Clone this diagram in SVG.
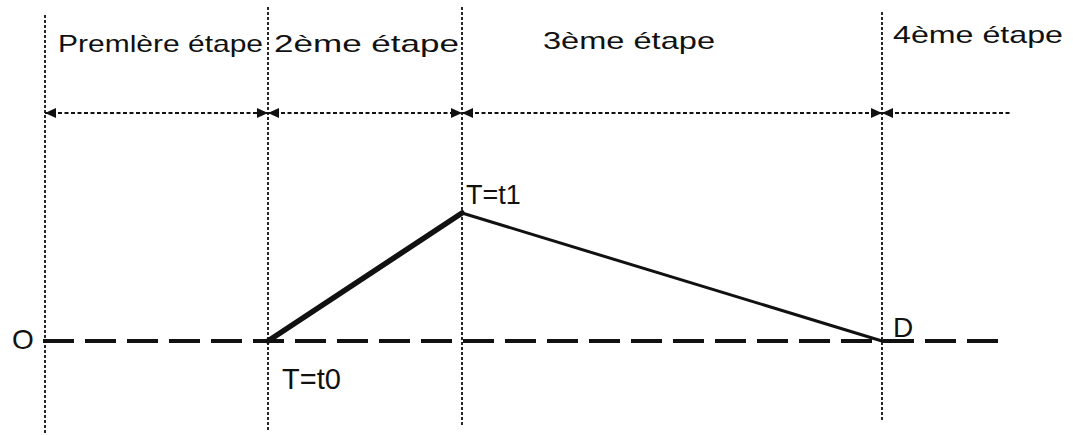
<svg xmlns="http://www.w3.org/2000/svg" width="1073" height="435" viewBox="0 0 1073 435">
<style>
.lbl{font-family:"Liberation Sans",Arial,sans-serif;fill:#111;}
.hd{font-size:24px;}
.vline{stroke:#111;stroke-width:1.8;stroke-dasharray:3 2;fill:none;}
.span{stroke:#111;stroke-width:2;stroke-dasharray:4 2.5;fill:none;}
.axis{stroke:#111;stroke-width:4;stroke-dasharray:31 11;fill:none;}
</style>
<defs>
<marker id="ah" viewBox="0 0 11 10" refX="11" refY="5" markerWidth="11" markerHeight="10" markerUnits="userSpaceOnUse" orient="auto-start-reverse">
<path d="M0,0 L11,5 L0,10 z" fill="#111"/>
</marker>
</defs>
<rect width="1073" height="435" fill="#fff"/>
<g id="grid">
<line class="vline" x1="45" y1="15" x2="45" y2="435" stroke-width="2.2"/>
<line class="vline" x1="268" y1="7" x2="268" y2="430"/>
<line class="vline" x1="462" y1="7" x2="462" y2="427"/>
<line class="vline" x1="882" y1="12" x2="882" y2="420"/>
</g>
<g id="stage1"><text class="lbl hd" x="58" y="52" textLength="205" lengthAdjust="spacingAndGlyphs">Premlère étape</text></g>
<g id="stage2"><text class="lbl hd" x="274" y="52" textLength="185" lengthAdjust="spacingAndGlyphs">2ème étape</text></g>
<g id="stage3"><text class="lbl hd" x="543" y="49" textLength="172" lengthAdjust="spacingAndGlyphs">3ème étape</text></g>
<g id="stage4"><text class="lbl hd" x="893" y="43" textLength="170" lengthAdjust="spacingAndGlyphs">4ème étape</text></g>
<g id="connectors">
<line class="span" x1="45" y1="113" x2="268" y2="113" marker-start="url(#ah)" marker-end="url(#ah)"/>
<line class="span" x1="268" y1="113" x2="462" y2="113" marker-start="url(#ah)" marker-end="url(#ah)"/>
<line class="span" x1="462" y1="113" x2="882" y2="113" marker-start="url(#ah)" marker-end="url(#ah)"/>
<line class="span" x1="882" y1="113" x2="1012" y2="113" marker-start="url(#ah)"/>
<line class="axis" x1="43" y1="341" x2="1005" y2="341"/>
<line x1="268" y1="341" x2="462" y2="213" stroke="#111" stroke-width="5.5" stroke-linecap="round"/>
<line x1="462" y1="213" x2="882" y2="341" stroke="#111" stroke-width="3" stroke-linecap="round"/>
</g>
<g id="origin"><text class="lbl" x="12" y="349" font-size="28">O</text></g>
<g id="t0"><text class="lbl" x="282" y="389" font-size="29">T=t0</text></g>
<g id="t1"><text class="lbl" x="466" y="204" font-size="27">T=t1</text></g>
<g id="destination"><text class="lbl" x="893" y="337" font-size="28">D</text></g>
</svg>
